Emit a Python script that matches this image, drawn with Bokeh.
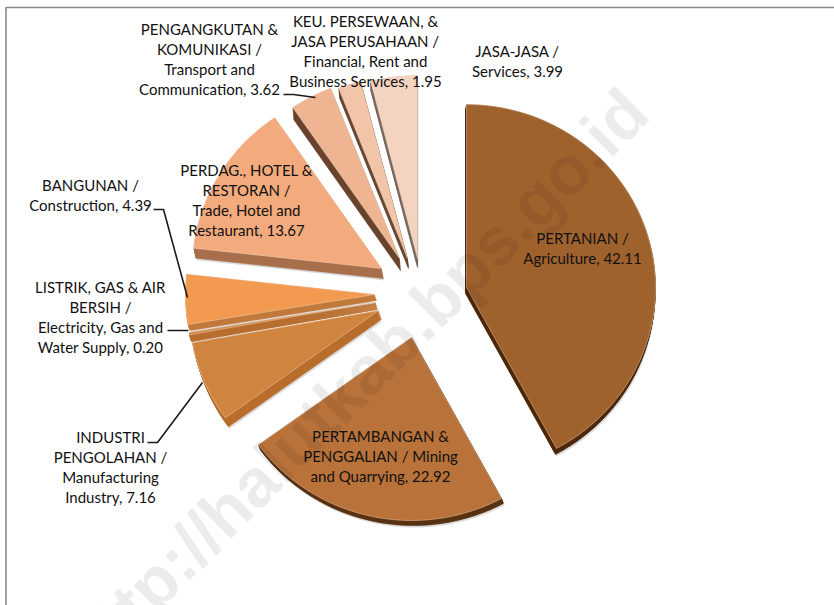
import numpy as np
from bokeh.embed import file_html
from bokeh.resources import INLINE
from bokeh.plotting import figure
from bokeh.core.properties import value

# ---- data ----
sectors = ["PERTANIAN", "PERTAMBANGAN", "INDUSTRI", "LISTRIK", "BANGUNAN",
           "PERDAGANGAN", "PENGANGKUTAN", "KEUANGAN", "JASA"]
shares = [42.11, 22.92, 7.16, 0.20, 4.39, 13.67, 3.62, 1.95, 3.99]
labels = [
    "PERTANIAN /\nAgriculture, 42.11",
    "PERTAMBANGAN &\nPENGGALIAN / Mining\nand Quarrying, 22.92",
    "INDUSTRI\nPENGOLAHAN /\nManufacturing\nIndustry, 7.16",
    "LISTRIK, GAS & AIR\nBERSIH /\nElectricity, Gas and\nWater Supply, 0.20",
    "BANGUNAN /\nConstruction, 4.39",
    "PERDAG., HOTEL &\nRESTORAN /\nTrade, Hotel and\nRestaurant, 13.67",
    "PENGANGKUTAN &\nKOMUNIKASI /\nTransport and\nCommunication, 3.62",
    "KEU. PERSEWAAN, &\nJASA PERUSAHAAN /\nFinancial, Rent and\nBusiness Services, 1.95",
    "JASA-JASA /\nServices, 3.99",
]

# ---- layout and style (reference pixel space) ----
pie_cx, pie_cy, rx, ry = 422, 280, 189, 183
explode_x = [44, -11, -44, -47, -48, -41, -23, -15, -5]
explode_y = [7, 57, 30, 22, 14, -12, -22, -22, -22]
depth_x = [-1, 2, 3, 2, 2, 2, 1, 1, 0]
depth_y = [6, 5, 9, 7, 6, 10, 12, 10, 9]
top_colors = ["#A0622D", "#B8723A", "#CF8540", "#D08540", "#F39A50",
              "#F3AB7E", "#EFB592", "#F2C4A8", "#F4D3C1"]
side_colors = ["#4F2A0C", "#5A3312", "#B96F2E", "#B86F30", "#C27A3C",
               "#A8704D", "#6B452F", "#6B4A36", "#7A6A60"]
label_x = [582, 380, 110, 100, 90, 246, 209, 365, 517]
label_y = [237, 435, 436, 286, 184, 169, 28, 20, 50]
line_step = 20
leaders = [
    ([283, 293, 315], [94, 94, 97]),
    ([153, 163, 187], [209, 209, 297]),
    ([167, 188], [330, 330]),
    ([147, 157, 202], [442, 442, 382]),
]

p = figure(width=834, height=605, x_range=(0, 834), y_range=(605, 0),
           output_backend="svg", toolbar_location=None,
           background_fill_color="white", border_fill_color="white",
           min_border=0, outline_line_color=None,
           styles={"position": "absolute", "left": "0px", "top": "0px"})
p.axis.visible = False
p.grid.visible = False

# frame of the pasted picture
p.line([834, 5.5, 5.5], [7, 7, 605], line_color="#8a8a8a", line_width=1.6)

# slices
total = sum(shares)
edges = np.concatenate([[0], np.cumsum(shares)]) / total * 2 * np.pi


def outline(i, ox=0.0, oy=0.0):
    t = np.linspace(edges[i], edges[i + 1], max(4, int(shares[i] * 4)))
    ax = pie_cx + explode_x[i] + ox
    ay = pie_cy + explode_y[i] + oy
    return ([ax] + list(ax + rx * np.sin(t)), [ay] + list(ay - ry * np.cos(t)))


order = [8, 7, 6, 5, 0, 4, 3, 2, 1]
for i in order:
    # soft shadow below the block
    sx, sy = outline(i, depth_x[i] + 1, depth_y[i] + 2)
    p.patch(sx, sy, fill_color="#999999", fill_alpha=0.35, line_color=None)
    # extruded side, as a stack of shifted copies
    for f in np.linspace(1, 0.05, 12):
        xs, ys = outline(i, depth_x[i] * f, depth_y[i] * f)
        p.patch(xs, ys, fill_color=side_colors[i], line_color=side_colors[i], line_width=0.5)
    # top surface
    xs, ys = outline(i)
    p.patch(xs, ys, fill_color=top_colors[i], line_color="#F6DCC6", line_alpha=0.55, line_width=0.8)

# watermark
p.text([356], [379], text=["http://halutkab.bps.go.id"], angle=[45], angle_units="deg",
       text_font=value("Liberation Sans"), text_font_style="bold", text_font_size="68px",
       text_color="#000000", text_alpha=0.075, text_align="center", text_baseline="middle")

# leader lines
for lx, ly in leaders:
    p.line(lx, ly, line_color="#1a1a1a", line_width=1.6)

# labels
for lab, x0, y0 in zip(labels, label_x, label_y):
    rows = lab.split("\n")
    p.text([x0] * len(rows), [y0 + k * line_step for k in range(len(rows))], text=rows,
           text_font=value("Lato"), text_font_size="15px", text_color="#111111",
           text_align="center", text_baseline="middle")

open("out.html", "w").write(file_html(p, INLINE))
